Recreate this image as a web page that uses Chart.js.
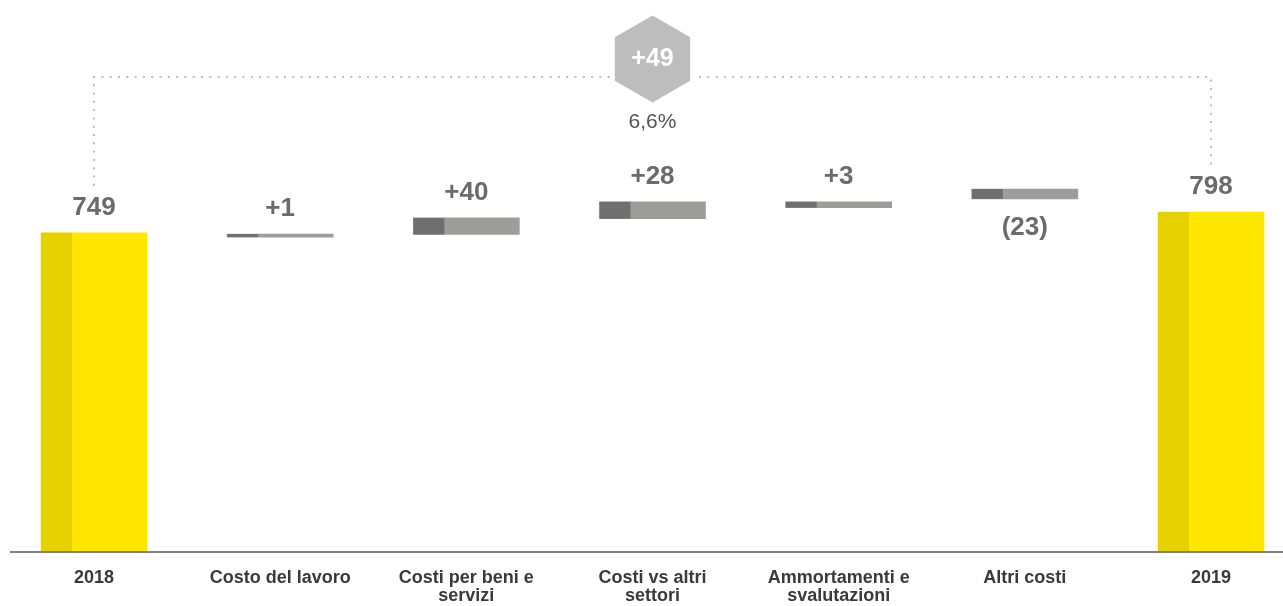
<!DOCTYPE html>
<html>
<head>
<meta charset="utf-8">
<script src="https://cdn.jsdelivr.net/npm/chart.js@4.4.0/dist/chart.umd.min.js"></script>
<style>
  html, body { margin: 0; padding: 0; background: #fff; }
</style>
</head>
<body>
<canvas id="costChart" width="1283" height="606"></canvas>
<script>
// Chart data
const categories = ['2018', 'Costo del lavoro', ['Costi per beni e', 'servizi'], ['Costi vs altri', 'settori'], ['Ammortamenti e', 'svalutazioni'], 'Altri costi', '2019'];
const valueLabels = ['749', '+1', '+40', '+28', '+3', '(23)', '798'];
// floating bars: bottom and top of each bar in chart units
const barLow = [0, 739, 745, 782, 808, 829, 0];
const barHigh = [749, 746, 784, 822, 822, 852, 798];
const isTotal = [true, false, false, false, false, false, true];
const labelBelow = [false, false, false, false, false, true, false];
const totalChange = '+49';
const totalChangePct = '6,6%';

const FONT = '"Liberation Sans", Arial, Helvetica, sans-serif';

const overlayPlugin = {
    id: 'overlay',
    afterDatasetsDraw(chart) {
        const ctx = chart.ctx;
        const meta = chart.getDatasetMeta(0);
        const area = chart.chartArea;
        ctx.save();

        // darker left strip on each bar + value labels
        meta.data.forEach(function(bar, i) {
            const left = bar.x - bar.width / 2;
            const top = Math.min(bar.y, bar.base);
            const bottom = Math.max(bar.y, bar.base);
            ctx.fillStyle = isTotal[i] ? '#E5D100' : '#6F6F6F';
            ctx.fillRect(left, top, 31, bottom - top);

            ctx.font = 'bold 26px ' + FONT;
            ctx.fillStyle = '#6B6B6B';
            ctx.textAlign = 'center';
            ctx.textBaseline = 'alphabetic';
            const ly = labelBelow[i] ? bottom + 36 : top - 18;
            ctx.fillText(valueLabels[i], bar.x, ly);
        });

        // axis line
        ctx.fillStyle = '#808080';
        ctx.fillRect(10, area.bottom, chart.width - 10, 2);

        // dotted connector between the two totals
        const first = meta.data[0];
        const last = meta.data[meta.data.length - 1];
        const lineY = 77;
        ctx.strokeStyle = '#BDBDBD';
        ctx.lineWidth = 2;
        ctx.setLineDash([2, 6.3]);
        ctx.beginPath();
        ctx.moveTo(first.x, first.y - 47);
        ctx.lineTo(first.x, lineY);
        ctx.lineTo(last.x, lineY);
        ctx.lineTo(last.x, last.y - 45);
        ctx.stroke();
        ctx.setLineDash([]);

        // hexagon with total change
        const cx = chart.scales.x.getPixelForValue(3);
        const cy = 59;
        const r = 43.5;
        ctx.beginPath();
        for (let k = 0; k < 6; k++) {
            const a = -Math.PI / 2 + k * Math.PI / 3;
            const px = cx + r * Math.cos(a);
            const py = cy + r * Math.sin(a);
            if (k === 0) ctx.moveTo(px, py); else ctx.lineTo(px, py);
        }
        ctx.closePath();
        ctx.strokeStyle = '#ffffff';
        ctx.lineWidth = 6;
        ctx.stroke();
        ctx.fillStyle = '#BDBDBD';
        ctx.fill();

        ctx.fillStyle = '#ffffff';
        ctx.font = 'bold 25px ' + FONT;
        ctx.textAlign = 'center';
        ctx.fillText(totalChange, cx, 66);

        ctx.fillStyle = '#555555';
        ctx.font = '21px ' + FONT;
        ctx.fillText(totalChangePct, cx, 128);

        ctx.restore();
    }
};

const ctx = document.getElementById('costChart').getContext('2d');
const costChart = new Chart(ctx, {
    type: 'bar',
    data: {
        labels: categories,
        datasets: [
            {
                data: barLow.map(function(lo, i) { return [lo, barHigh[i]]; }),
                backgroundColor: isTotal.map(function(t) { return t ? '#FFE600' : '#9D9D9C'; }),
                borderWidth: 0,
                barThickness: 106,
                grouped: false,
                clip: false
            }
        ]
    },
    options: {
        responsive: false,
        animation: false,
        layout: {
            padding: { left: 94, right: 72, top: 0, bottom: 0 }
        },
        plugins: {
            legend: { display: false },
            tooltip: { enabled: false },
            title: { display: false }
        },
        scales: {
            x: {
                offset: false,
                grid: { display: false, drawTicks: false },
                border: { display: false },
                ticks: {
                    color: '#3A3A3A',
                    font: { family: FONT, size: 18, weight: 'bold', lineHeight: 1 },
                    padding: 18,
                    maxRotation: 0,
                    autoSkip: false
                },
                afterFit: function(scale) {
                    scale.height = 55;
                }
            },
            y: {
                display: false,
                min: 0,
                max: 1297
            }
        }
    },
    plugins: [overlayPlugin]
});
</script>
</body>
</html>
